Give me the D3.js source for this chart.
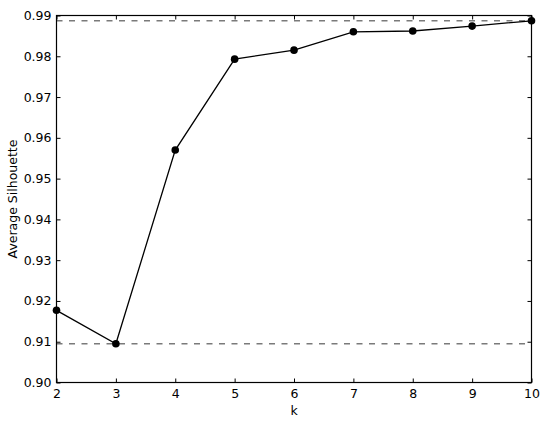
<!DOCTYPE html>
<html><head><meta charset="utf-8">
<script src="https://cdn.jsdelivr.net/npm/d3@7"></script>
<style>body{margin:0;background:#fff}svg{display:block}text{font-family:"DejaVu Sans";fill:#000}</style>
</head><body><svg id="c" width="550" height="423"></svg>
<script>
const ks = [2,3,4,5,6,7,8,9,10];
const silhouette = [0.9177,0.9095,0.9570,0.9793,0.9815,0.9860,0.9862,0.9874,0.9887];
const xTicks = [2,3,4,5,6,7,8,9,10];
const yTicks = [0.90,0.91,0.92,0.93,0.94,0.95,0.96,0.97,0.98,0.99];
(function(){
const svg = d3.select("#c");
const m = {l:56.5, r:531.5, t:15.5, b:382.5};
const x = d3.scaleLinear().domain([2,10]).range([m.l,m.r]);
const y = d3.scaleLinear().domain([0.90,0.99]).range([m.b,m.t]);
const fs = 12.5;

const maxV = d3.max(silhouette), minV = d3.min(silhouette);
[maxV,minV].forEach(v=>{
  svg.append("line").attr("x1",m.l).attr("x2",m.r).attr("y1",y(v)).attr("y2",y(v))
    .attr("stroke","#7a7a7a").attr("stroke-width",1.5).attr("stroke-dasharray","6,6.5");
});

svg.append("path").datum(ks.map((k,i)=>[k,silhouette[i]]))
  .attr("d",d3.line().x(d=>x(d[0])).y(d=>y(d[1])))
  .attr("fill","none").attr("stroke","#000").attr("stroke-width",1.3);
svg.selectAll("circle.pt").data(ks.map((k,i)=>[k,silhouette[i]])).enter().append("circle")
  .attr("cx",d=>x(d[0])).attr("cy",d=>y(d[1])).attr("r",3.8).attr("fill","#000");

const axB = d3.axisBottom(x).tickValues(xTicks).tickSize(-4).tickPadding(7).tickFormat(d3.format("d"));
const axT = d3.axisTop(x).tickValues(xTicks).tickSize(-4).tickFormat("");
const axL = d3.axisLeft(y).tickValues(yTicks).tickSize(-4).tickPadding(5).tickFormat(d3.format(".2f"));
const axR = d3.axisRight(y).tickValues(yTicks).tickSize(-4).tickFormat("");
function style(g){g.selectAll(".domain").remove();g.selectAll("line").attr("stroke","#000");g.selectAll("text").attr("font-size",fs).attr("font-family","DejaVu Sans").attr("fill","#000");}
svg.append("g").attr("transform",`translate(0,${m.b})`).call(axB).call(style);
svg.append("g").attr("transform",`translate(0,${m.t})`).call(axT).call(style);
svg.append("g").attr("transform",`translate(${m.l},0)`).call(axL).call(style);
svg.append("g").attr("transform",`translate(${m.r},0)`).call(axR).call(style);

svg.append("rect").attr("x",m.l).attr("y",m.t).attr("width",m.r-m.l).attr("height",m.b-m.t)
  .attr("fill","none").attr("stroke","#000").attr("stroke-width",1.2);

svg.append("text").attr("x",(m.l+m.r)/2).attr("y",415).attr("text-anchor","middle").attr("font-size",fs).text("k");
svg.append("text").attr("transform",`translate(17,${(m.t+m.b)/2}) rotate(-90)`).attr("text-anchor","middle").attr("font-size",fs).text("Average Silhouette");
})();
</script></body></html>
